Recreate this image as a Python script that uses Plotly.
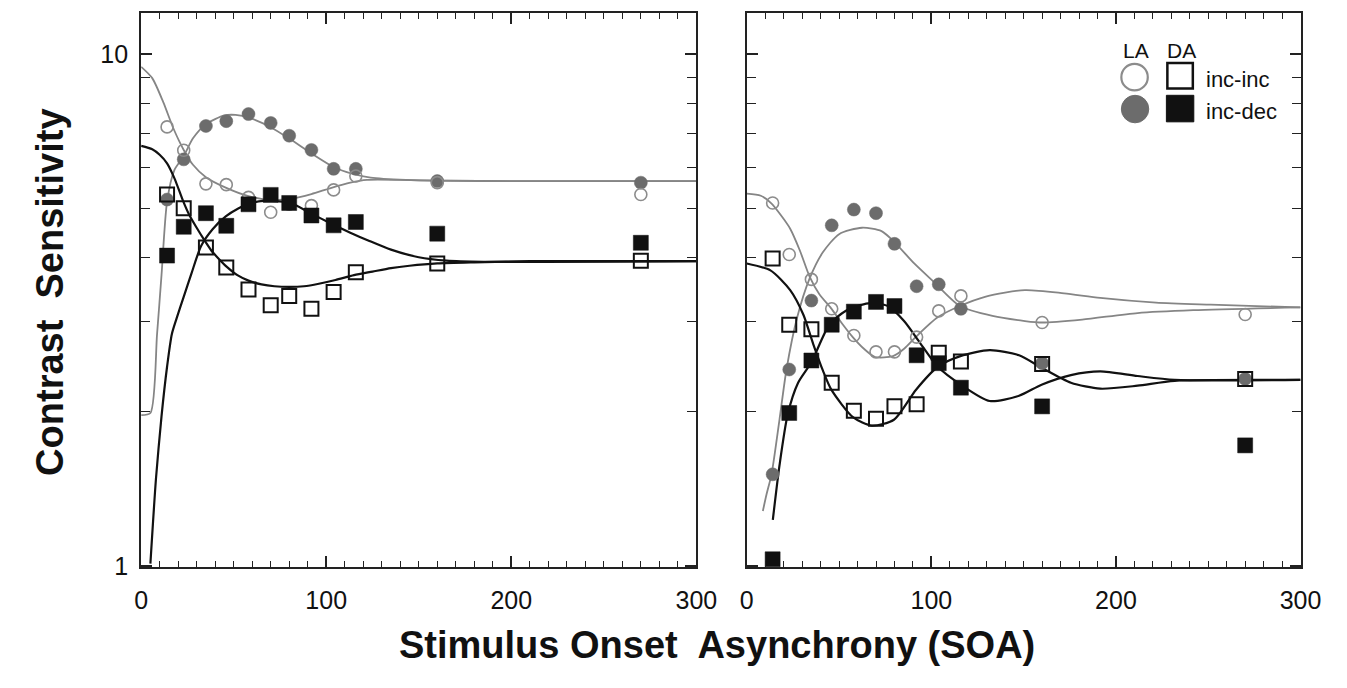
import plotly.graph_objects as go

W, H = 1347, 688

# ---------------- data ----------------
soa = [14, 23, 35, 46, 58, 70, 80, 92, 104, 116, 160, 270]

# left panel
la_incinc_L = [7.21, 6.49, 5.58, 5.56, 5.25, 4.91, 5.09, 5.06, 5.43, 5.78, 5.61, 5.32]
la_incdec_L = [5.20, 6.23, 7.24, 7.40, 7.64, 7.34, 6.93, 6.50, 5.97, 5.97, 5.65, 5.61]
da_incinc_L = [5.32, 5.00, 4.19, 3.83, 3.47, 3.23, 3.37, 3.18, 3.43, 3.75, 3.90, 3.95]
da_incdec_L = [4.04, 4.60, 4.89, 4.62, 5.09, 5.31, 5.12, 4.84, 4.63, 4.70, 4.46, 4.28]

# right panel
la_incinc_R = [5.12, 4.06, 3.63, 3.18, 2.82, 2.62, 2.62, 2.80, 3.15, 3.37, 2.99, 3.10]
la_incdec_R = [1.51, 2.42, 3.30, 4.63, 4.97, 4.89, 4.26, 3.52, 3.55, 3.18, 2.49, 2.32]
da_incinc_R = [3.99, 2.96, 2.90, 2.28, 2.01, 1.94, 2.05, 2.07, 2.61, 2.51, 2.48, 2.32]
da_incdec_R = [1.03, 1.99, 2.52, 2.96, 3.14, 3.28, 3.22, 2.58, 2.49, 2.23, 2.05, 1.72]

# fitted curves, left panel
fit_la_incinc_L_x = [0, 6, 12, 17.5, 23, 28, 35, 46, 58, 70, 81, 92, 102, 113, 122, 140, 160, 200, 300]
fit_la_incinc_L_y = [9.45, 8.98, 8.05, 7.15, 6.50, 6.08, 5.75, 5.48, 5.28, 5.19, 5.22, 5.33, 5.47, 5.61, 5.68, 5.68, 5.66, 5.65, 5.65]
fit_la_incdec_L_x = [0, 5, 8.6, 11, 14, 18, 23, 28, 35, 45, 51, 59, 70, 80, 92, 104, 114, 124, 143, 160, 200, 300]
fit_la_incdec_L_y = [1.97, 1.99, 2.84, 3.70, 5.15, 5.94, 6.32, 6.85, 7.30, 7.59, 7.61, 7.50, 7.20, 6.84, 6.40, 6.02, 5.84, 5.74, 5.68, 5.66, 5.65, 5.65]
fit_da_incinc_L_x = [0, 6, 10, 14, 18, 22.8, 26, 30, 34, 38, 42, 46, 52, 58, 65, 72, 80, 88, 96, 105, 115, 125, 135, 145, 160, 180, 210, 300]
fit_da_incinc_L_y = [6.62, 6.52, 6.36, 6.12, 5.72, 5.15, 4.85, 4.58, 4.34, 4.13, 3.98, 3.85, 3.70, 3.61, 3.55, 3.52, 3.51, 3.52, 3.56, 3.62, 3.70, 3.76, 3.82, 3.86, 3.90, 3.92, 3.94, 3.94]
fit_da_incdec_L_x = [5, 8, 11, 14, 16.6, 19.2, 22.8, 27.2, 32.4, 38.6, 45.7, 52.7, 58, 66, 74, 81, 91.5, 102, 113, 123, 135, 150, 165, 185, 300]
fit_da_incdec_L_y = [1.01, 1.48, 1.96, 2.45, 2.84, 3.05, 3.34, 3.73, 4.22, 4.55, 4.82, 5.00, 5.10, 5.17, 5.16, 5.12, 4.89, 4.68, 4.48, 4.32, 4.15, 4.01, 3.95, 3.93, 3.94]

# fitted curves, right panel
fit_la_incinc_R_x = [0, 7.6, 13.3, 18.2, 23.5, 28.8, 34.1, 39.4, 45.6, 51.8, 57.4, 63.3, 69.5, 79.2, 85.4, 91.5, 103.4, 115.4, 129.5, 150.7, 171.9, 191.5, 221.7, 251.4, 300]
fit_la_incinc_R_y = [5.34, 5.29, 5.11, 4.86, 4.56, 4.13, 3.67, 3.39, 3.19, 2.97, 2.80, 2.66, 2.56, 2.57, 2.66, 2.80, 3.06, 3.22, 3.36, 3.46, 3.41, 3.34, 3.27, 3.24, 3.20]
fit_la_incdec_R_x = [8.7, 10.7, 13.4, 17.7, 21.5, 27.2, 34.1, 41.2, 50.0, 62.4, 73.0, 80.1, 90.7, 101.3, 115.4, 133.1, 150.7, 160, 181.7, 211.7, 241.9, 300]
fit_la_incdec_R_y = [1.28, 1.38, 1.51, 1.93, 2.42, 3.05, 3.65, 4.10, 4.45, 4.58, 4.51, 4.29, 3.90, 3.59, 3.22, 3.08, 3.01, 2.99, 3.03, 3.12, 3.16, 3.20]
fit_da_incinc_R_x = [0, 12.8, 23.5, 30.6, 35.9, 41.2, 45.8, 57.7, 67.7, 79.7, 91.7, 103.5, 115.7, 131.6, 147.5, 159.7, 175.6, 191.5, 211.7, 231.8, 300]
fit_da_incinc_R_y = [3.90, 3.78, 3.46, 3.10, 2.72, 2.41, 2.21, 1.95, 1.88, 1.93, 2.21, 2.45, 2.57, 2.64, 2.58, 2.44, 2.28, 2.22, 2.25, 2.30, 2.31]
fit_da_incdec_R_x = [14.1, 17.7, 22.2, 27.8, 35, 44.7, 53.5, 65.8, 76.4, 85.2, 94.1, 103.5, 116, 131.6, 147.5, 159.7, 175.6, 191.5, 211.7, 231.8, 300]
fit_da_incdec_R_y = [1.23, 1.57, 1.98, 2.28, 2.50, 2.96, 3.15, 3.26, 3.22, 3.01, 2.72, 2.45, 2.26, 2.10, 2.15, 2.26, 2.36, 2.40, 2.35, 2.31, 2.31]

# axis ticks
x_major = [0, 100, 200, 300]
y_major = [1, 10]
y_major_text = ["1", "10"]
y_minor = [2, 3, 4, 5, 6, 7, 8, 9]

# legend text
legend_cols = ["LA", "DA"]
legend_rows = ["inc-inc", "inc-dec"]

# ---------------- styling ----------------
GRAY_LINE = "#858585"
GRAY_FILL = "#6c6c6c"
GRAY_OPEN = "#8c8c8c"
BLACK = "#111111"
FRAME = "#222222"
FONT = "Liberation Sans, Arial, sans-serif"


def px(x):
    return x / W


def py(y):
    return 1 - y / H


fig = go.Figure()


def add_panel(xa, ya, fits, pts):
    for fx, fy, col, wid in fits:
        fig.add_trace(go.Scatter(x=fx, y=fy, mode="lines", xaxis=xa, yaxis=ya,
                                 line=dict(color=col, width=wid, shape="spline", smoothing=0.7),
                                 showlegend=False, hoverinfo="skip"))
    for vals, sym, size, col, lcol, lw in pts:
        fig.add_trace(go.Scatter(x=soa, y=vals, mode="markers", xaxis=xa, yaxis=ya,
                                 marker=dict(symbol=sym, size=size, color=col,
                                             line=dict(color=lcol, width=lw)),
                                 showlegend=False))


add_panel("x", "y",
          [(fit_la_incinc_L_x, fit_la_incinc_L_y, GRAY_LINE, 1.8),
           (fit_la_incdec_L_x, fit_la_incdec_L_y, GRAY_LINE, 1.8),
           (fit_da_incinc_L_x, fit_da_incinc_L_y, BLACK, 2.2),
           (fit_da_incdec_L_x, fit_da_incdec_L_y, BLACK, 2.2)],
          [(la_incdec_L, "circle", 13, GRAY_FILL, GRAY_FILL, 0.5),
           (la_incinc_L, "circle-open", 12, GRAY_OPEN, GRAY_OPEN, 1.6),
           (da_incdec_L, "square", 15, BLACK, BLACK, 0.5),
           (da_incinc_L, "square-open", 14, BLACK, BLACK, 2)])

add_panel("x2", "y2",
          [(fit_la_incinc_R_x, fit_la_incinc_R_y, GRAY_LINE, 1.8),
           (fit_la_incdec_R_x, fit_la_incdec_R_y, GRAY_LINE, 1.8),
           (fit_da_incinc_R_x, fit_da_incinc_R_y, BLACK, 2.2),
           (fit_da_incdec_R_x, fit_da_incdec_R_y, BLACK, 2.2)],
          [(la_incdec_R, "circle", 13, GRAY_FILL, GRAY_FILL, 0.5),
           (la_incinc_R, "circle-open", 12, GRAY_OPEN, GRAY_OPEN, 1.6),
           (da_incdec_R, "square", 15, BLACK, BLACK, 0.5),
           (da_incinc_R, "square-open", 14, BLACK, BLACK, 2)])

xaxis_common = dict(range=[0, 300], tickmode="array", tickvals=x_major,
                    ticks="inside", ticklen=11, tickwidth=1.5, tickcolor=FRAME,
                    minor=dict(dtick=10, tick0=0, ticks="inside", ticklen=6, tickwidth=1.2, tickcolor=FRAME),
                    showline=True, linewidth=2, linecolor=FRAME, mirror="ticks",
                    showgrid=False, zeroline=False, ticklabelstandoff=10,
                    tickfont=dict(family=FONT, size=25, color="#111111"))
yaxis_common = dict(type="log", range=[-0.003, 1.081], tickmode="array", tickvals=y_major,
                    ticktext=y_major_text,
                    ticks="inside", ticklen=11, tickwidth=1.5, tickcolor=FRAME,
                    minor=dict(tickmode="array", tickvals=y_minor, ticks="inside", ticklen=9,
                               tickwidth=1.2, tickcolor=FRAME),
                    showline=True, linewidth=2, linecolor=FRAME, mirror="ticks",
                    showgrid=False, zeroline=False, ticklabelstandoff=6,
                    tickfont=dict(family=FONT, size=25, color="#111111"))

fig.update_layout(
    width=W, height=H, margin=dict(l=0, r=0, t=0, b=0, pad=0),
    paper_bgcolor="white", plot_bgcolor="white",
    xaxis=dict(domain=[px(137), px(704)], anchor="y", **xaxis_common),
    yaxis=dict(domain=[py(577.5), py(13)], anchor="x", **yaxis_common),
    xaxis2=dict(domain=[px(755.5), px(1321)], anchor="y2", **xaxis_common),
    yaxis2=dict(domain=[py(577.5), py(13)], anchor="x2", showticklabels=False, **yaxis_common),
    showlegend=False,
)

# axis titles
fig.add_annotation(text="Contrast\u00a0 Sensitivity", xref="paper", yref="paper",
                   x=px(44), y=py(298), textangle=-90, showarrow=False,
                   xanchor="center", yanchor="middle",
                   font=dict(family=FONT, size=38, color="#111111", weight="bold"))
fig.add_annotation(text="Stimulus Onset\u00a0 Asynchrony (SOA)", xref="paper", yref="paper",
                   x=px(725), y=py(656), showarrow=False,
                   xanchor="center", yanchor="middle",
                   font=dict(family=FONT, size=38, color="#111111", weight="bold"))

# legend (drawn in figure pixels)
shapes = []
shapes.append(dict(type="circle", xref="paper", yref="paper",
                   x0=px(1138), x1=px(1165), y0=py(92), y1=py(65),
                   line=dict(color=GRAY_OPEN, width=2.2), fillcolor="rgba(0,0,0,0)"))
shapes.append(dict(type="circle", xref="paper", yref="paper",
                   x0=px(1138), x1=px(1166), y0=py(125), y1=py(97),
                   line=dict(color=GRAY_FILL, width=1), fillcolor=GRAY_FILL))
shapes.append(dict(type="rect", xref="paper", yref="paper",
                   x0=px(1185), x1=px(1211), y0=py(90), y1=py(64),
                   line=dict(color=BLACK, width=2.5), fillcolor="rgba(0,0,0,0)"))
shapes.append(dict(type="rect", xref="paper", yref="paper",
                   x0=px(1184), x1=px(1212), y0=py(124), y1=py(97),
                   line=dict(color=BLACK, width=1), fillcolor=BLACK))
fig.update_layout(shapes=shapes)

for txt, cx in zip(legend_cols, [1153, 1199]):
    fig.add_annotation(text=txt, xref="paper", yref="paper", x=px(cx), y=py(51),
                       showarrow=False, xanchor="center", yanchor="middle",
                       font=dict(family=FONT, size=21, color="#111111"))
for txt, cy in zip(legend_rows, [81, 113]):
    fig.add_annotation(text=txt, xref="paper", yref="paper", x=px(1222), y=py(cy),
                       showarrow=False, xanchor="left", yanchor="middle",
                       font=dict(family=FONT, size=22, color="#111111"))

fig.write_html("out.html", include_plotlyjs=True, config={"displayModeBar": False},
               post_script="document.body.style.margin='0';document.body.style.overflow='hidden';")
